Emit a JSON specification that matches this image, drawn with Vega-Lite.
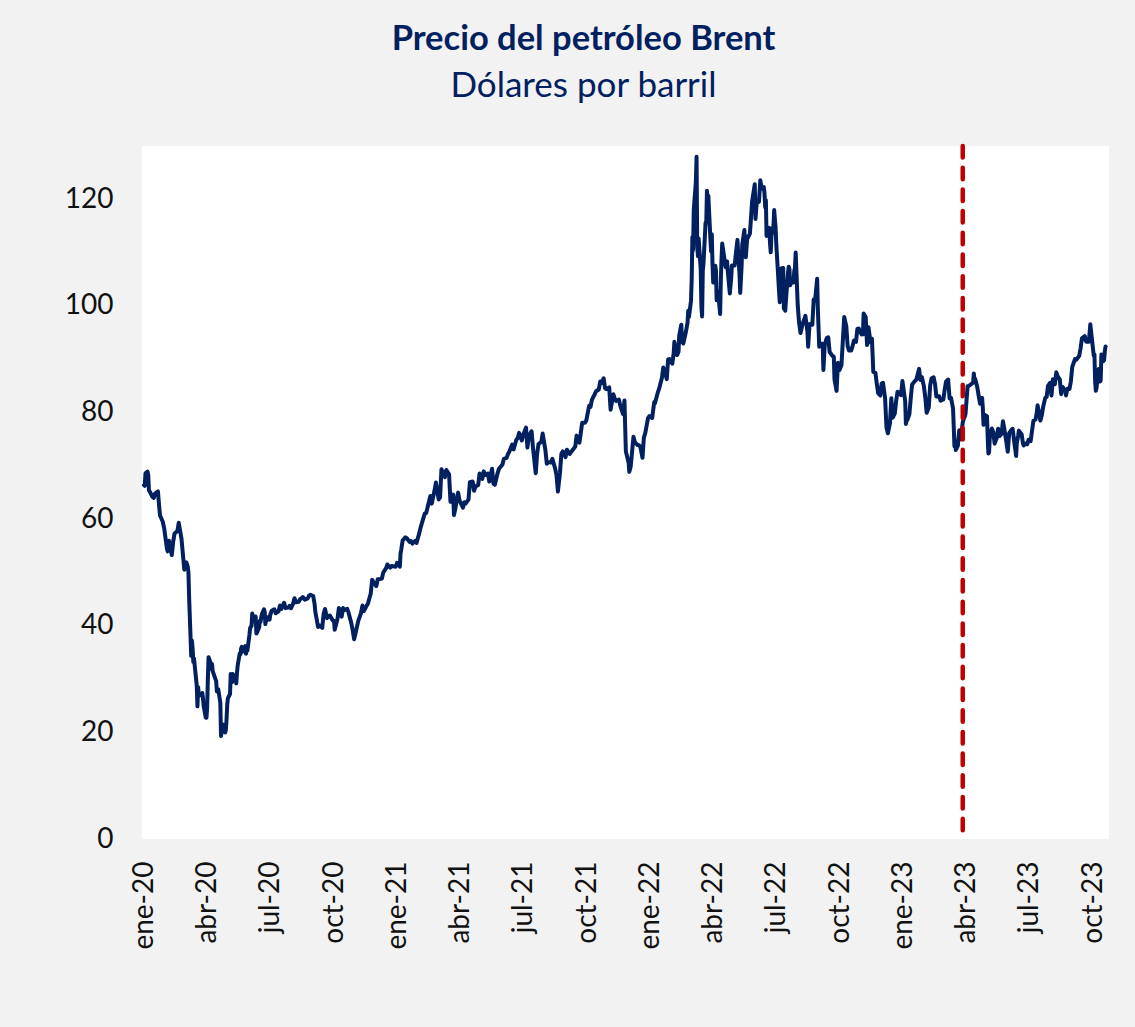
{
  "$schema": "https://vega.github.io/schema/vega-lite/v6.json",
  "width": 967,
  "height": 693,
  "autosize": {"type": "none"},
  "padding": {"left": 142, "top": 146, "right": 26, "bottom": 188},
  "background": "#f2f2f2",
  "config": {
    "view": {"fill": "#ffffff", "stroke": null},
    "font": "Lato"
  },
  "title": {
    "text": "Precio del petróleo Brent",
    "subtitle": "Dólares por barril",
    "font": "Lato",
    "fontSize": 34.5,
    "fontWeight": "bold",
    "color": "#002060",
    "subtitleFont": "Lato",
    "subtitleFontSize": 35,
    "subtitleColor": "#002060",
    "subtitlePadding": 11,
    "anchor": "middle",
    "frame": "group",
    "dx": -42,
    "offset": 39
  },
  "layer": [
    {
      "data": {"values": [
        {"d":"2019-12-30","v":66.67},{"d":"2020-01-02","v":66.25},{"d":"2020-01-03","v":68.60},{"d":"2020-01-06","v":68.91},{"d":"2020-01-07","v":68.27},{"d":"2020-01-08","v":65.44},{"d":"2020-01-10","v":64.98},{"d":"2020-01-13","v":64.20},{"d":"2020-01-15","v":64.00},{"d":"2020-01-17","v":64.85},{"d":"2020-01-21","v":65.20},{"d":"2020-01-23","v":62.04},{"d":"2020-01-24","v":60.69},{"d":"2020-01-28","v":59.51},{"d":"2020-01-30","v":58.29},{"d":"2020-02-03","v":54.45},{"d":"2020-02-04","v":53.96},{"d":"2020-02-06","v":55.93},{"d":"2020-02-10","v":53.27},{"d":"2020-02-12","v":55.79},{"d":"2020-02-14","v":57.32},{"d":"2020-02-18","v":57.75},{"d":"2020-02-20","v":59.31},{"d":"2020-02-24","v":56.30},{"d":"2020-02-26","v":53.43},{"d":"2020-02-28","v":50.52},{"d":"2020-03-02","v":51.90},{"d":"2020-03-04","v":51.13},{"d":"2020-03-05","v":49.99},{"d":"2020-03-06","v":45.27},{"d":"2020-03-09","v":34.36},{"d":"2020-03-10","v":37.22},{"d":"2020-03-11","v":35.79},{"d":"2020-03-12","v":33.22},{"d":"2020-03-13","v":33.85},{"d":"2020-03-16","v":30.05},{"d":"2020-03-17","v":28.73},{"d":"2020-03-18","v":24.88},{"d":"2020-03-19","v":28.47},{"d":"2020-03-20","v":26.98},{"d":"2020-03-23","v":27.03},{"d":"2020-03-24","v":27.15},{"d":"2020-03-25","v":27.39},{"d":"2020-03-26","v":26.34},{"d":"2020-03-27","v":24.93},{"d":"2020-03-30","v":22.76},{"d":"2020-03-31","v":22.74},{"d":"2020-04-01","v":24.74},{"d":"2020-04-02","v":29.94},{"d":"2020-04-03","v":34.11},{"d":"2020-04-06","v":33.05},{"d":"2020-04-07","v":31.87},{"d":"2020-04-08","v":32.84},{"d":"2020-04-09","v":31.48},{"d":"2020-04-14","v":29.60},{"d":"2020-04-15","v":27.69},{"d":"2020-04-16","v":27.82},{"d":"2020-04-17","v":28.08},{"d":"2020-04-20","v":25.57},{"d":"2020-04-21","v":19.33},{"d":"2020-04-22","v":20.37},{"d":"2020-04-23","v":21.33},{"d":"2020-04-24","v":21.44},{"d":"2020-04-27","v":19.99},{"d":"2020-04-28","v":20.46},{"d":"2020-04-29","v":22.54},{"d":"2020-04-30","v":25.27},{"d":"2020-05-01","v":26.44},{"d":"2020-05-04","v":27.20},{"d":"2020-05-05","v":30.97},{"d":"2020-05-06","v":29.72},{"d":"2020-05-07","v":29.46},{"d":"2020-05-08","v":30.97},{"d":"2020-05-11","v":29.63},{"d":"2020-05-12","v":29.98},{"d":"2020-05-13","v":29.19},{"d":"2020-05-14","v":31.13},{"d":"2020-05-15","v":32.50},{"d":"2020-05-18","v":34.81},{"d":"2020-05-19","v":34.65},{"d":"2020-05-20","v":35.75},{"d":"2020-05-21","v":36.06},{"d":"2020-05-22","v":35.13},{"d":"2020-05-26","v":36.17},{"d":"2020-05-27","v":34.74},{"d":"2020-05-28","v":35.29},{"d":"2020-05-29","v":35.33},{"d":"2020-06-01","v":38.32},{"d":"2020-06-02","v":39.57},{"d":"2020-06-03","v":39.79},{"d":"2020-06-04","v":39.99},{"d":"2020-06-05","v":42.30},{"d":"2020-06-08","v":40.80},{"d":"2020-06-09","v":41.18},{"d":"2020-06-10","v":41.73},{"d":"2020-06-11","v":38.55},{"d":"2020-06-12","v":38.73},{"d":"2020-06-15","v":39.72},{"d":"2020-06-16","v":40.96},{"d":"2020-06-17","v":40.71},{"d":"2020-06-18","v":41.51},{"d":"2020-06-19","v":42.19},{"d":"2020-06-22","v":43.08},{"d":"2020-06-23","v":42.63},{"d":"2020-06-24","v":40.31},{"d":"2020-06-25","v":41.05},{"d":"2020-06-26","v":41.02},{"d":"2020-06-29","v":41.71},{"d":"2020-06-30","v":41.15},
        {"d":"2020-07-01","v":42.03},{"d":"2020-07-03","v":42.80},{"d":"2020-07-07","v":43.08},{"d":"2020-07-09","v":42.35},{"d":"2020-07-13","v":42.72},{"d":"2020-07-15","v":43.79},{"d":"2020-07-17","v":43.14},{"d":"2020-07-21","v":44.32},{"d":"2020-07-23","v":43.31},{"d":"2020-07-27","v":43.41},{"d":"2020-07-29","v":43.75},{"d":"2020-07-31","v":43.30},{"d":"2020-08-03","v":44.15},{"d":"2020-08-05","v":45.17},{"d":"2020-08-07","v":44.40},{"d":"2020-08-11","v":44.50},{"d":"2020-08-13","v":44.96},{"d":"2020-08-17","v":45.37},{"d":"2020-08-20","v":44.90},{"d":"2020-08-24","v":45.13},{"d":"2020-08-26","v":45.64},{"d":"2020-08-28","v":45.81},{"d":"2020-09-01","v":45.58},{"d":"2020-09-03","v":44.07},{"d":"2020-09-04","v":42.66},{"d":"2020-09-08","v":39.78},{"d":"2020-09-10","v":40.06},{"d":"2020-09-14","v":39.61},{"d":"2020-09-16","v":42.22},{"d":"2020-09-18","v":43.15},{"d":"2020-09-21","v":41.44},{"d":"2020-09-23","v":41.77},{"d":"2020-09-25","v":41.92},{"d":"2020-09-29","v":41.03},{"d":"2020-10-01","v":40.93},{"d":"2020-10-02","v":39.27},{"d":"2020-10-06","v":41.29},{"d":"2020-10-08","v":43.34},{"d":"2020-10-12","v":41.72},{"d":"2020-10-14","v":43.32},{"d":"2020-10-16","v":42.93},{"d":"2020-10-20","v":43.16},{"d":"2020-10-22","v":42.46},{"d":"2020-10-26","v":40.46},{"d":"2020-10-28","v":39.12},{"d":"2020-10-30","v":37.46},{"d":"2020-11-03","v":39.71},{"d":"2020-11-05","v":40.93},{"d":"2020-11-09","v":42.40},{"d":"2020-11-11","v":43.80},{"d":"2020-11-13","v":42.78},{"d":"2020-11-17","v":43.75},{"d":"2020-11-19","v":44.20},{"d":"2020-11-23","v":46.06},{"d":"2020-11-25","v":48.61},{"d":"2020-11-27","v":48.18},{"d":"2020-12-01","v":47.42},{"d":"2020-12-03","v":48.71},{"d":"2020-12-07","v":48.79},{"d":"2020-12-09","v":48.86},{"d":"2020-12-11","v":49.97},{"d":"2020-12-15","v":50.76},{"d":"2020-12-17","v":51.50},{"d":"2020-12-21","v":50.91},{"d":"2020-12-23","v":51.20},{"d":"2020-12-29","v":51.09},{"d":"2020-12-31","v":51.80},
        {"d":"2021-01-04","v":51.09},{"d":"2021-01-05","v":53.60},{"d":"2021-01-06","v":54.30},{"d":"2021-01-08","v":55.99},{"d":"2021-01-12","v":56.58},{"d":"2021-01-14","v":56.42},{"d":"2021-01-18","v":55.75},{"d":"2021-01-20","v":55.90},{"d":"2021-01-22","v":55.41},{"d":"2021-01-26","v":55.91},{"d":"2021-01-28","v":55.53},{"d":"2021-02-01","v":57.38},{"d":"2021-02-03","v":58.46},{"d":"2021-02-05","v":59.34},{"d":"2021-02-09","v":61.09},{"d":"2021-02-11","v":61.14},{"d":"2021-02-15","v":63.30},{"d":"2021-02-17","v":64.34},{"d":"2021-02-19","v":62.91},{"d":"2021-02-23","v":65.37},{"d":"2021-02-25","v":66.88},{"d":"2021-03-01","v":63.69},{"d":"2021-03-03","v":64.07},{"d":"2021-03-05","v":69.36},{"d":"2021-03-08","v":68.24},{"d":"2021-03-10","v":67.90},{"d":"2021-03-12","v":69.22},{"d":"2021-03-16","v":68.39},{"d":"2021-03-18","v":63.28},{"d":"2021-03-22","v":64.62},{"d":"2021-03-23","v":60.79},{"d":"2021-03-25","v":61.95},{"d":"2021-03-29","v":64.98},{"d":"2021-03-31","v":63.54},{"d":"2021-04-05","v":62.15},{"d":"2021-04-07","v":63.16},{"d":"2021-04-09","v":62.95},{"d":"2021-04-13","v":63.67},{"d":"2021-04-15","v":66.94},{"d":"2021-04-19","v":67.05},{"d":"2021-04-21","v":65.32},{"d":"2021-04-23","v":66.11},{"d":"2021-04-27","v":66.42},{"d":"2021-04-29","v":68.56},{"d":"2021-05-03","v":67.56},{"d":"2021-05-05","v":68.96},{"d":"2021-05-07","v":68.28},{"d":"2021-05-11","v":68.55},{"d":"2021-05-13","v":67.05},{"d":"2021-05-17","v":69.46},{"d":"2021-05-19","v":66.66},{"d":"2021-05-21","v":66.44},{"d":"2021-05-25","v":68.65},{"d":"2021-05-27","v":69.46},{"d":"2021-06-01","v":70.25},{"d":"2021-06-03","v":71.31},{"d":"2021-06-07","v":71.49},{"d":"2021-06-09","v":72.22},{"d":"2021-06-11","v":72.69},{"d":"2021-06-15","v":73.99},{"d":"2021-06-17","v":73.08},{"d":"2021-06-21","v":74.90},{"d":"2021-06-23","v":75.19},{"d":"2021-06-25","v":76.18},{"d":"2021-06-29","v":74.76},{"d":"2021-07-01","v":75.84},{"d":"2021-07-05","v":77.16},{"d":"2021-07-07","v":73.43},{"d":"2021-07-09","v":75.55},{"d":"2021-07-13","v":76.49},{"d":"2021-07-15","v":73.47},{"d":"2021-07-19","v":68.62},{"d":"2021-07-21","v":72.23},{"d":"2021-07-23","v":74.10},{"d":"2021-07-27","v":74.48},{"d":"2021-07-29","v":76.05},{"d":"2021-08-02","v":72.89},{"d":"2021-08-04","v":70.38},{"d":"2021-08-06","v":70.70},{"d":"2021-08-10","v":70.63},{"d":"2021-08-12","v":71.31},{"d":"2021-08-16","v":69.51},{"d":"2021-08-18","v":68.23},{"d":"2021-08-20","v":65.18},{"d":"2021-08-23","v":68.75},{"d":"2021-08-25","v":72.25},{"d":"2021-08-27","v":72.70},{"d":"2021-08-31","v":71.63},{"d":"2021-09-02","v":73.03},{"d":"2021-09-06","v":72.22},{"d":"2021-09-08","v":72.60},{"d":"2021-09-10","v":72.92},{"d":"2021-09-14","v":73.60},{"d":"2021-09-16","v":75.67},{"d":"2021-09-20","v":74.36},{"d":"2021-09-22","v":76.19},{"d":"2021-09-24","v":78.09},{"d":"2021-09-28","v":78.09},{"d":"2021-09-30","v":78.52},{"d":"2021-10-04","v":81.26},{"d":"2021-10-06","v":81.08},{"d":"2021-10-08","v":82.39},{"d":"2021-10-12","v":83.42},{"d":"2021-10-14","v":84.00},{"d":"2021-10-18","v":84.33},{"d":"2021-10-20","v":85.82},{"d":"2021-10-22","v":85.53},{"d":"2021-10-25","v":86.40},{"d":"2021-10-27","v":84.58},{"d":"2021-10-29","v":84.38},{"d":"2021-11-02","v":84.72},{"d":"2021-11-04","v":80.54},{"d":"2021-11-08","v":83.43},{"d":"2021-11-10","v":82.64},{"d":"2021-11-12","v":82.17},{"d":"2021-11-16","v":82.43},{"d":"2021-11-18","v":81.24},{"d":"2021-11-22","v":79.70},{"d":"2021-11-24","v":82.25},{"d":"2021-11-26","v":72.72},{"d":"2021-11-30","v":70.57},{"d":"2021-12-01","v":68.87},{"d":"2021-12-03","v":69.88},{"d":"2021-12-07","v":75.44},{"d":"2021-12-09","v":74.42},{"d":"2021-12-13","v":73.90},{"d":"2021-12-15","v":73.88},{"d":"2021-12-17","v":73.52},{"d":"2021-12-20","v":71.52},{"d":"2021-12-22","v":75.29},{"d":"2021-12-24","v":76.14},{"d":"2021-12-28","v":78.94},{"d":"2021-12-30","v":79.32},
        {"d":"2022-01-03","v":78.98},{"d":"2022-01-04","v":80.00},{"d":"2022-01-06","v":81.99},{"d":"2022-01-07","v":81.75},{"d":"2022-01-11","v":83.72},{"d":"2022-01-13","v":84.47},{"d":"2022-01-17","v":86.48},{"d":"2022-01-19","v":88.44},{"d":"2022-01-21","v":87.89},{"d":"2022-01-24","v":86.27},{"d":"2022-01-26","v":89.96},{"d":"2022-01-28","v":90.03},{"d":"2022-02-01","v":89.16},{"d":"2022-02-03","v":91.11},{"d":"2022-02-04","v":93.27},{"d":"2022-02-08","v":90.78},{"d":"2022-02-10","v":91.41},{"d":"2022-02-11","v":94.44},{"d":"2022-02-14","v":96.48},{"d":"2022-02-15","v":93.28},{"d":"2022-02-17","v":92.97},{"d":"2022-02-21","v":95.39},{"d":"2022-02-23","v":96.84},{"d":"2022-02-24","v":99.08},{"d":"2022-02-25","v":97.93},{"d":"2022-02-28","v":100.99},{"d":"2022-03-01","v":104.97},{"d":"2022-03-02","v":112.93},{"d":"2022-03-03","v":110.46},{"d":"2022-03-04","v":118.11},{"d":"2022-03-07","v":123.21},{"d":"2022-03-08","v":127.98},{"d":"2022-03-09","v":111.14},{"d":"2022-03-10","v":109.33},{"d":"2022-03-11","v":112.67},{"d":"2022-03-14","v":106.90},{"d":"2022-03-15","v":99.91},{"d":"2022-03-16","v":98.02},{"d":"2022-03-17","v":106.64},{"d":"2022-03-18","v":107.93},{"d":"2022-03-21","v":115.62},{"d":"2022-03-22","v":115.48},{"d":"2022-03-23","v":121.60},{"d":"2022-03-24","v":119.03},{"d":"2022-03-25","v":120.65},{"d":"2022-03-28","v":112.48},{"d":"2022-03-29","v":110.23},{"d":"2022-03-30","v":113.45},{"d":"2022-03-31","v":107.91},{"d":"2022-04-01","v":104.39},{"d":"2022-04-04","v":107.53},{"d":"2022-04-05","v":106.64},{"d":"2022-04-06","v":101.07},{"d":"2022-04-08","v":102.78},{"d":"2022-04-11","v":98.48},{"d":"2022-04-12","v":104.64},{"d":"2022-04-13","v":108.78},{"d":"2022-04-14","v":111.70},{"d":"2022-04-19","v":107.25},{"d":"2022-04-21","v":108.33},{"d":"2022-04-22","v":106.65},{"d":"2022-04-25","v":102.32},{"d":"2022-04-27","v":105.32},{"d":"2022-04-28","v":107.59},{"d":"2022-05-02","v":107.58},{"d":"2022-05-04","v":110.14},{"d":"2022-05-06","v":112.39},{"d":"2022-05-09","v":105.94},{"d":"2022-05-10","v":102.46},{"d":"2022-05-12","v":107.45},{"d":"2022-05-13","v":111.55},{"d":"2022-05-16","v":114.24},{"d":"2022-05-18","v":109.11},{"d":"2022-05-20","v":112.55},{"d":"2022-05-24","v":113.56},{"d":"2022-05-26","v":117.40},{"d":"2022-05-27","v":119.43},{"d":"2022-05-31","v":122.84},{"d":"2022-06-01","v":116.29},{"d":"2022-06-03","v":119.72},{"d":"2022-06-06","v":119.51},{"d":"2022-06-08","v":123.58},{"d":"2022-06-10","v":122.01},{"d":"2022-06-13","v":122.27},{"d":"2022-06-14","v":121.17},{"d":"2022-06-15","v":118.51},{"d":"2022-06-16","v":119.81},{"d":"2022-06-17","v":113.12},{"d":"2022-06-21","v":114.65},{"d":"2022-06-22","v":111.74},{"d":"2022-06-23","v":110.05},{"d":"2022-06-24","v":113.12},{"d":"2022-06-27","v":115.09},{"d":"2022-06-28","v":117.98},{"d":"2022-06-29","v":116.26},{"d":"2022-06-30","v":114.81},{"d":"2022-07-01","v":111.63},{"d":"2022-07-05","v":102.77},{"d":"2022-07-06","v":100.69},{"d":"2022-07-07","v":104.65},{"d":"2022-07-08","v":107.02},{"d":"2022-07-11","v":107.10},{"d":"2022-07-12","v":99.49},{"d":"2022-07-13","v":99.57},{"d":"2022-07-14","v":99.10},{"d":"2022-07-15","v":101.16},{"d":"2022-07-18","v":106.27},{"d":"2022-07-19","v":107.35},{"d":"2022-07-20","v":106.92},{"d":"2022-07-21","v":103.86},{"d":"2022-07-25","v":105.15},{"d":"2022-07-26","v":104.40},{"d":"2022-07-27","v":106.62},{"d":"2022-07-28","v":107.14},{"d":"2022-07-29","v":110.01},{"d":"2022-08-01","v":100.03},{"d":"2022-08-03","v":96.78},{"d":"2022-08-05","v":94.92},{"d":"2022-08-08","v":96.65},{"d":"2022-08-10","v":97.40},{"d":"2022-08-12","v":98.15},{"d":"2022-08-15","v":95.10},{"d":"2022-08-16","v":92.34},{"d":"2022-08-18","v":96.59},{"d":"2022-08-22","v":96.48},{"d":"2022-08-24","v":101.22},{"d":"2022-08-26","v":100.99},{"d":"2022-08-29","v":105.09},{"d":"2022-08-30","v":99.31},{"d":"2022-09-01","v":92.36},{"d":"2022-09-02","v":93.02},{"d":"2022-09-06","v":92.83},{"d":"2022-09-07","v":88.00},{"d":"2022-09-09","v":92.84},{"d":"2022-09-12","v":94.00},{"d":"2022-09-14","v":94.10},{"d":"2022-09-16","v":91.35},{"d":"2022-09-20","v":90.62},{"d":"2022-09-22","v":90.46},{"d":"2022-09-23","v":86.15},{"d":"2022-09-26","v":84.06},{"d":"2022-09-28","v":89.32},{"d":"2022-09-30","v":87.96},{"d":"2022-10-03","v":88.86},{"d":"2022-10-05","v":93.37},{"d":"2022-10-07","v":97.92},{"d":"2022-10-10","v":96.19},{"d":"2022-10-12","v":92.45},{"d":"2022-10-14","v":91.63},{"d":"2022-10-17","v":91.62},{"d":"2022-10-19","v":92.41},{"d":"2022-10-21","v":93.50},{"d":"2022-10-24","v":93.26},{"d":"2022-10-26","v":95.69},{"d":"2022-10-28","v":95.77},{"d":"2022-11-01","v":94.65},{"d":"2022-11-03","v":94.67},{"d":"2022-11-04","v":98.57},{"d":"2022-11-07","v":97.92},{"d":"2022-11-09","v":92.65},{"d":"2022-11-11","v":95.99},{"d":"2022-11-14","v":93.14},{"d":"2022-11-16","v":93.86},{"d":"2022-11-18","v":87.62},{"d":"2022-11-21","v":87.45},{"d":"2022-11-23","v":85.41},{"d":"2022-11-25","v":83.63},{"d":"2022-11-28","v":83.19},{"d":"2022-11-30","v":85.43},{"d":"2022-12-02","v":85.57},{"d":"2022-12-05","v":82.68},{"d":"2022-12-07","v":77.17},{"d":"2022-12-09","v":76.10},{"d":"2022-12-12","v":77.99},{"d":"2022-12-14","v":82.70},{"d":"2022-12-16","v":79.04},{"d":"2022-12-19","v":79.80},{"d":"2022-12-21","v":82.20},{"d":"2022-12-23","v":83.92},{"d":"2022-12-28","v":83.26},{"d":"2022-12-30","v":85.91},
        {"d":"2023-01-03","v":82.10},{"d":"2023-01-04","v":77.84},{"d":"2023-01-05","v":78.69},{"d":"2023-01-06","v":78.57},{"d":"2023-01-09","v":79.65},{"d":"2023-01-11","v":82.67},{"d":"2023-01-13","v":85.28},{"d":"2023-01-17","v":85.92},{"d":"2023-01-19","v":86.16},{"d":"2023-01-23","v":88.19},{"d":"2023-01-25","v":86.12},{"d":"2023-01-27","v":86.66},{"d":"2023-01-30","v":84.90},{"d":"2023-02-01","v":82.84},{"d":"2023-02-03","v":79.94},{"d":"2023-02-06","v":80.99},{"d":"2023-02-08","v":85.09},{"d":"2023-02-10","v":86.39},{"d":"2023-02-13","v":86.61},{"d":"2023-02-15","v":85.38},{"d":"2023-02-17","v":83.00},{"d":"2023-02-21","v":83.05},{"d":"2023-02-23","v":82.21},{"d":"2023-02-27","v":82.45},{"d":"2023-03-01","v":84.31},{"d":"2023-03-03","v":85.83},{"d":"2023-03-06","v":86.18},{"d":"2023-03-08","v":82.66},{"d":"2023-03-10","v":82.78},{"d":"2023-03-13","v":80.77},{"d":"2023-03-14","v":77.45},{"d":"2023-03-15","v":73.69},{"d":"2023-03-16","v":74.70},{"d":"2023-03-17","v":72.97},{"d":"2023-03-20","v":73.79},{"d":"2023-03-21","v":75.32},{"d":"2023-03-22","v":76.69},{"d":"2023-03-23","v":75.91},{"d":"2023-03-24","v":74.99},{"d":"2023-03-27","v":78.12},{"d":"2023-03-28","v":78.65},{"d":"2023-03-30","v":79.27},{"d":"2023-03-31","v":79.77},{"d":"2023-04-03","v":84.93},{"d":"2023-04-05","v":84.99},{"d":"2023-04-06","v":85.12},{"d":"2023-04-11","v":85.61},{"d":"2023-04-12","v":87.33},{"d":"2023-04-13","v":86.09},{"d":"2023-04-14","v":86.31},{"d":"2023-04-17","v":84.76},{"d":"2023-04-19","v":83.12},{"d":"2023-04-21","v":81.66},{"d":"2023-04-24","v":82.73},{"d":"2023-04-25","v":80.77},{"d":"2023-04-26","v":77.69},{"d":"2023-04-27","v":78.37},{"d":"2023-04-28","v":79.54},{"d":"2023-05-01","v":79.31},{"d":"2023-05-02","v":75.32},{"d":"2023-05-03","v":72.33},{"d":"2023-05-04","v":72.50},{"d":"2023-05-05","v":75.30},{"d":"2023-05-08","v":77.01},{"d":"2023-05-10","v":76.41},{"d":"2023-05-12","v":74.17},{"d":"2023-05-15","v":75.23},{"d":"2023-05-17","v":76.96},{"d":"2023-05-19","v":75.58},{"d":"2023-05-22","v":75.99},{"d":"2023-05-24","v":78.36},{"d":"2023-05-26","v":76.95},{"d":"2023-05-30","v":73.54},{"d":"2023-05-31","v":72.66},{"d":"2023-06-02","v":76.13},{"d":"2023-06-05","v":76.71},{"d":"2023-06-07","v":76.95},{"d":"2023-06-09","v":74.79},{"d":"2023-06-12","v":71.84},{"d":"2023-06-13","v":74.29},{"d":"2023-06-15","v":75.67},{"d":"2023-06-16","v":76.61},{"d":"2023-06-20","v":75.90},{"d":"2023-06-22","v":74.14},{"d":"2023-06-23","v":73.85},{"d":"2023-06-26","v":74.18},{"d":"2023-06-28","v":74.03},{"d":"2023-06-30","v":74.90},{"d":"2023-07-03","v":74.65},{"d":"2023-07-05","v":76.65},{"d":"2023-07-07","v":78.47},{"d":"2023-07-10","v":78.69},{"d":"2023-07-12","v":80.11},{"d":"2023-07-13","v":81.36},{"d":"2023-07-17","v":78.50},{"d":"2023-07-19","v":79.46},{"d":"2023-07-21","v":81.07},{"d":"2023-07-24","v":82.74},{"d":"2023-07-26","v":82.92},{"d":"2023-07-28","v":84.99},{"d":"2023-07-31","v":85.56},{"d":"2023-08-02","v":83.20},{"d":"2023-08-04","v":86.24},{"d":"2023-08-07","v":85.34},{"d":"2023-08-09","v":87.55},{"d":"2023-08-11","v":86.81},{"d":"2023-08-14","v":86.21},{"d":"2023-08-16","v":83.45},{"d":"2023-08-18","v":84.80},{"d":"2023-08-22","v":84.03},{"d":"2023-08-23","v":83.21},{"d":"2023-08-25","v":84.48},{"d":"2023-08-28","v":84.42},{"d":"2023-08-30","v":85.86},{"d":"2023-09-01","v":88.55},{"d":"2023-09-05","v":90.04},{"d":"2023-09-07","v":89.92},{"d":"2023-09-11","v":90.64},{"d":"2023-09-13","v":92.06},{"d":"2023-09-15","v":93.93},{"d":"2023-09-19","v":94.34},{"d":"2023-09-21","v":93.30},{"d":"2023-09-25","v":93.29},{"d":"2023-09-27","v":96.55},{"d":"2023-09-28","v":95.38},{"d":"2023-10-02","v":90.71},{"d":"2023-10-03","v":90.92},{"d":"2023-10-04","v":85.81},{"d":"2023-10-05","v":84.07},{"d":"2023-10-06","v":84.58},{"d":"2023-10-09","v":88.15},{"d":"2023-10-10","v":87.65},{"d":"2023-10-11","v":85.82},{"d":"2023-10-12","v":86.00},{"d":"2023-10-13","v":90.89},{"d":"2023-10-16","v":89.65},{"d":"2023-10-17","v":89.90},{"d":"2023-10-18","v":91.50},{"d":"2023-10-19","v":92.38},{"d":"2023-10-20","v":92.16}
      ]},
      "mark": {"type": "line", "color": "#002060", "strokeWidth": 4, "strokeJoin": "round", "clip": true},
      "encoding": {
        "x": {
          "field": "d",
          "type": "temporal",
          "title": null,
          "scale": {
            "type": "utc",
            "domain": [
              {"year": 2019, "month": 12, "date": 29, "utc": true},
              {"year": 2023, "month": 10, "date": 24, "utc": true}
            ]
          },
          "axis": {
            "values": [
              {"year": 2020, "month": 1, "date": 1, "utc": true},
              {"year": 2020, "month": 4, "date": 1, "utc": true},
              {"year": 2020, "month": 7, "date": 1, "utc": true},
              {"year": 2020, "month": 10, "date": 1, "utc": true},
              {"year": 2021, "month": 1, "date": 1, "utc": true},
              {"year": 2021, "month": 4, "date": 1, "utc": true},
              {"year": 2021, "month": 7, "date": 1, "utc": true},
              {"year": 2021, "month": 10, "date": 1, "utc": true},
              {"year": 2022, "month": 1, "date": 1, "utc": true},
              {"year": 2022, "month": 4, "date": 1, "utc": true},
              {"year": 2022, "month": 7, "date": 1, "utc": true},
              {"year": 2022, "month": 10, "date": 1, "utc": true},
              {"year": 2023, "month": 1, "date": 1, "utc": true},
              {"year": 2023, "month": 4, "date": 1, "utc": true},
              {"year": 2023, "month": 7, "date": 1, "utc": true},
              {"year": 2023, "month": 10, "date": 1, "utc": true}
            ],
            "labelExpr": "['ene','feb','mar','abr','may','jun','jul','ago','sep','oct','nov','dic'][utcmonth(datum.value)] + '-' + utcFormat(datum.value, '%y')",
            "labelAngle": -90,
            "labelAlign": "right",
            "labelBaseline": "middle",
            "labelFont": "Lato",
            "labelFontSize": 28,
            "labelColor": "#111111",
            "labelPadding": 22,
            "labelOverlap": false,
            "labelFlush": false,
            "ticks": false,
            "tickSize": 0,
            "domain": false,
            "grid": false
          }
        },
        "y": {
          "field": "v",
          "type": "quantitative",
          "title": null,
          "scale": {"domain": [0, 130], "nice": false, "zero": true},
          "axis": {
            "values": [0, 20, 40, 60, 80, 100, 120],
            "labelFont": "Lato",
            "labelFontSize": 28,
            "labelColor": "#111111",
            "labelPadding": 29,
            "ticks": false,
            "tickSize": 0,
            "domain": false,
            "grid": false
          }
        }
      }
    },
    {
      "data": {"values": [{"d": "2023-03-27"}]},
      "mark": {"type": "rule", "color": "#c00000", "strokeWidth": 4.5, "strokeDash": [11.5, 10.2], "strokeCap": "round"},
      "encoding": {
        "x": {"field": "d", "type": "temporal"}
      }
    }
  ]
}
